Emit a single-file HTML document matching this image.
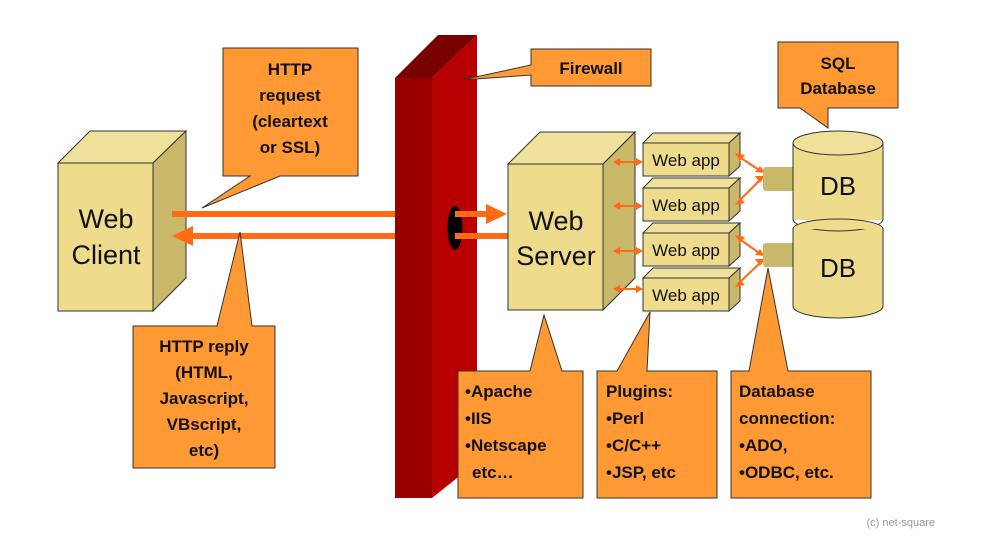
<!DOCTYPE html>
<html><head><meta charset="utf-8"><style>
html,body{margin:0;padding:0;background:#fff;}
svg{display:block;}
text{font-family:"Liberation Sans",Arial,sans-serif;}
.b{font-weight:bold;font-size:17px;fill:#111;}
</style></head><body>
<svg width="986" height="545" viewBox="0 0 986 545" xmlns="http://www.w3.org/2000/svg">
<!-- Web Client box -->
<g stroke="#333" stroke-width="1">
<polygon points="58,163 90,131 186,131 153,163" fill="#efe09a"/>
<polygon points="153,163 186,131 186,278 153,311" fill="#c9b86a"/>
<rect x="58" y="163" width="95" height="148" fill="#eedc8c"/>
</g>
<text x="106" y="228" font-size="27" text-anchor="middle" fill="#111">Web</text>
<text x="106" y="264" font-size="27" text-anchor="middle" fill="#111">Client</text>

<!-- arrows behind firewall -->
<line x1="172" y1="214" x2="420" y2="214" stroke="#ff6a13" stroke-width="6"/>
<line x1="190" y1="236" x2="420" y2="236" stroke="#ff6a13" stroke-width="6"/>
<polygon points="193,226 172,236 193,246" fill="#ff6a13"/>
<!-- Firewall -->
<polygon points="432,78 477,35 477,462 432,498" fill="#b80000"/>
<rect x="395" y="78" width="37" height="420" fill="#990000"/>
<polygon points="395,78 438,35 477,35 432,78" fill="#7a0000"/>
<ellipse cx="455" cy="228" rx="7.5" ry="22" fill="#000"/>
<line x1="455" y1="214" x2="490" y2="214" stroke="#ff6a13" stroke-width="6"/>
<polygon points="486,204 507,214 486,224" fill="#ff6a13"/>
<line x1="455" y1="236" x2="508" y2="236" stroke="#ff6a13" stroke-width="6"/>

<!-- Web Server box -->
<g stroke="#333" stroke-width="1">
<polygon points="508,164 540,132 635,132 603,164" fill="#efe09a"/>
<polygon points="603,164 635,132 635,278 603,310" fill="#c9b86a"/>
<rect x="508" y="164" width="95" height="146" fill="#eedc8c"/>
</g>
<text x="556" y="230" font-size="27" text-anchor="middle" fill="#111">Web</text>
<text x="556" y="265" font-size="27" text-anchor="middle" fill="#111">Server</text>

<!-- Web apps -->
<g stroke="#333" stroke-width="1">
<polygon points="643,143 653,133 740,133 729,143" fill="#efe09a"/>
<polygon points="729,143 740,133 740,166 729,176" fill="#c9b86a"/>
<rect x="643" y="143" width="86" height="33" fill="#eedc8c"/>
<polygon points="643,188 653,178 740,178 729,188" fill="#efe09a"/>
<polygon points="729,188 740,178 740,211 729,221" fill="#c9b86a"/>
<rect x="643" y="188" width="86" height="33" fill="#eedc8c"/>
<polygon points="643,233 653,223 740,223 729,233" fill="#efe09a"/>
<polygon points="729,233 740,223 740,256 729,266" fill="#c9b86a"/>
<rect x="643" y="233" width="86" height="33" fill="#eedc8c"/>
<polygon points="643,278 653,268 740,268 729,278" fill="#efe09a"/>
<polygon points="729,278 740,268 740,301 729,311" fill="#c9b86a"/>
<rect x="643" y="278" width="86" height="33" fill="#eedc8c"/>
</g>
<g font-size="17" fill="#111" text-anchor="middle">
<text x="686" y="166">Web app</text>
<text x="686" y="211">Web app</text>
<text x="686" y="256">Web app</text>
<text x="686" y="301">Web app</text>
</g>

<!-- small double arrows -->
<g stroke="#ff6a13" stroke-width="2" fill="#ff6a13">
<line x1="618" y1="162" x2="638" y2="162"/><polygon points="613,162 620,158 620,166" stroke="none"/><polygon points="643,162 636,158 636,166" stroke="none"/>
<line x1="618" y1="206" x2="638" y2="206"/><polygon points="613,206 620,202 620,210" stroke="none"/><polygon points="643,206 636,202 636,210" stroke="none"/>
<line x1="618" y1="251" x2="638" y2="251"/><polygon points="613,251 620,247 620,255" stroke="none"/><polygon points="643,251 636,247 636,255" stroke="none"/>
<line x1="618" y1="289" x2="638" y2="289"/><polygon points="613,289 620,285 620,293" stroke="none"/><polygon points="643,289 636,285 636,293" stroke="none"/>
<line x1="738" y1="156" x2="762" y2="172"/>
<line x1="738" y1="202" x2="762" y2="178"/>
<line x1="738" y1="238" x2="762" y2="255"/>
<line x1="738" y1="284" x2="762" y2="261"/>
</g>
<g fill="#ff6a13">
<polygon points="735,153 745,155 740,161"/>
<polygon points="765,173 755,172 760,166"/>
<polygon points="735,205 740,198 745,203"/>
<polygon points="765,176 755,176 760,183"/>
<polygon points="735,235 745,237 740,243"/>
<polygon points="765,256 755,255 760,249"/>
<polygon points="735,287 740,280 745,285"/>
<polygon points="765,259 755,259 760,266"/>
</g>

<!-- DB connectors -->
<rect x="763" y="167" width="32" height="24" rx="3" fill="#c9b86a"/>
<rect x="763" y="243" width="32" height="24" rx="3" fill="#c9b86a"/>

<!-- DB cylinders -->
<g stroke="#333" stroke-width="1">
<path d="M793,143 L793,306 A45,12 0 0 0 883,306 L883,143 Z" fill="#eedc8c"/>
<ellipse cx="838" cy="143" rx="45" ry="12" fill="#efe09a"/>
</g>
<rect x="788" y="220" width="100" height="8" fill="#fff"/>
<path d="M793,219 A45,12 0 0 0 883,219" fill="none" stroke="#333"/>
<path d="M793,229 A45,10 0 0 1 883,229" fill="#eedc8c" stroke="#333"/>
<text x="838" y="195" font-size="26" text-anchor="middle" fill="#111">DB</text>
<text x="838" y="277" font-size="26" text-anchor="middle" fill="#111">DB</text>

<!-- Callouts -->
<g fill="#ff9933" stroke="#333" stroke-width="1">
<path d="M223,48 H358 V176 H280 L202,208 L250,176 H223 Z"/>
<path d="M133,326 H217 L240,232 L252,326 H275 V468 H133 Z"/>
<path d="M531,49 H651 V86 H531 V75 L462,80 L531,65 Z"/>
<path d="M778,42 H898 V108 H828 L828,128 L800,108 H778 Z"/>
<path d="M458,371 H530 L544,315 L562,371 H583 V498 H458 Z"/>
<path d="M597,371 H617 L650,312 L647,371 H717 V498 H597 Z"/>
<path d="M731,371 H749 L768,268 L788,371 H871 V498 H731 Z"/>
</g>
<g text-anchor="middle">
<text x="290" y="75" class="b">HTTP</text>
<text x="290" y="101" class="b">request</text>
<text x="290" y="127" class="b">(cleartext</text>
<text x="290" y="153" class="b">or SSL)</text>
<text x="204" y="352" class="b">HTTP reply</text>
<text x="204" y="378" class="b">(HTML,</text>
<text x="204" y="404" class="b">Javascript,</text>
<text x="204" y="430" class="b">VBscript,</text>
<text x="204" y="456" class="b">etc)</text>
<text x="591" y="74" class="b">Firewall</text>
<text x="838" y="69" class="b">SQL</text>
<text x="838" y="94" class="b">Database</text>
</g>
<g>
<text x="465" y="397" class="b">•Apache</text>
<text x="465" y="424" class="b">•IIS</text>
<text x="465" y="451" class="b">•Netscape</text>
<text x="472" y="478" class="b">etc…</text>
<text x="606" y="397" class="b">Plugins:</text>
<text x="606" y="424" class="b">•Perl</text>
<text x="606" y="451" class="b">•C/C++</text>
<text x="606" y="478" class="b">•JSP, etc</text>
<text x="739" y="397" class="b">Database</text>
<text x="739" y="424" class="b">connection:</text>
<text x="739" y="451" class="b">•ADO,</text>
<text x="739" y="478" class="b">•ODBC, etc.</text>
</g>
<text x="935" y="526" font-size="11" fill="#999" text-anchor="end">(c) net-square</text>
</svg>
</body></html>
